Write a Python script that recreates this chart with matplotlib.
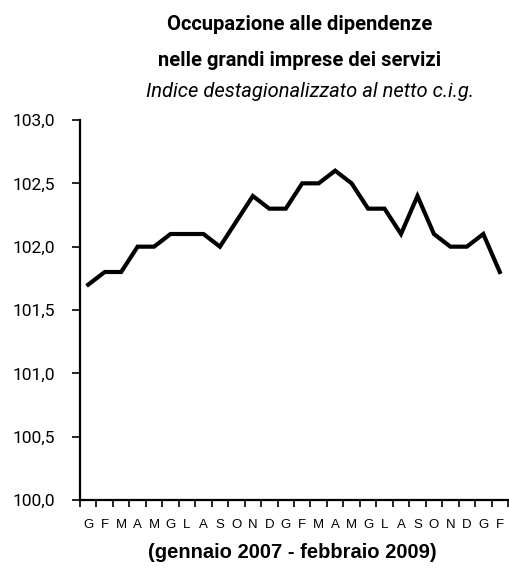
import matplotlib
matplotlib.use("Agg")
import matplotlib.pyplot as plt
from matplotlib import font_manager
import numpy as np

months = ["G","F","M","A","M","G","L","A","S","O","N","D",
          "G","F","M","A","M","G","L","A","S","O","N","D","G","F"]
values = [101.7, 101.8, 101.8, 102.0, 102.0, 102.1, 102.1, 102.1, 102.0, 102.2,
          102.4, 102.3, 102.3, 102.5, 102.5, 102.6, 102.5, 102.3, 102.3, 102.1,
          102.4, 102.1, 102.0, 102.0, 102.1, 101.8]
yticks = [100.0, 100.5, 101.0, 101.5, 102.0, 102.5, 103.0]

names = {f.name for f in font_manager.fontManager.ttflist}
narrow = "Liberation Sans Narrow" if "Liberation Sans Narrow" in names else "Roboto"

fig = plt.figure(figsize=(5.09, 5.69), dpi=100)
ax = fig.add_axes([80/509, 69/569, 428/509, 380/569])

x = np.arange(len(values)) + 0.5
ax.plot(x, values, color="black", lw=3.0, solid_joinstyle="miter")

ax.set_xlim(0, len(values))
ax.set_ylim(100.0, 103.0)
ax.set_xticks(np.arange(len(values) + 1))
ax.set_xticklabels([])
ax.set_xticks(x, minor=True)
ax.set_xticklabels(months, minor=True, fontsize=9.5, family="Liberation Sans")
ax.tick_params(axis="x", which="major", length=5, width=1.2, direction="out")
ax.tick_params(axis="x", which="minor", length=0, pad=14)

ax.set_yticks(yticks)
ax.set_yticklabels([f"{v:.1f}".replace(".", ",") for v in yticks], fontsize=12.5, family=narrow)
ax.tick_params(axis="y", length=6, width=1.2, direction="out", pad=12)

for s in ["top", "right"]:
    ax.spines[s].set_visible(False)
for s in ["left", "bottom"]:
    ax.spines[s].set_linewidth(1.6)

cx = 300/509
fig.text(cx, 1 - 25/569, "Occupazione alle dipendenze", ha="center", va="center",
         fontsize=14.5, fontweight="bold", family=narrow)
fig.text(cx, 1 - 60/569, "nelle grandi imprese dei servizi", ha="center", va="center",
         fontsize=14.5, fontweight="bold", family=narrow)
fig.text(310/509, 1 - 92/569, "Indice destagionalizzato al netto c.i.g.", ha="center", va="center",
         fontsize=14.5, style="italic", family=narrow)
fig.text(292/509, 1 - 553/569, "(gennaio 2007 - febbraio 2009)", ha="center", va="center",
         fontsize=14.5, fontweight="bold", family="Liberation Sans")

fig.savefig("out.png", dpi=100)
